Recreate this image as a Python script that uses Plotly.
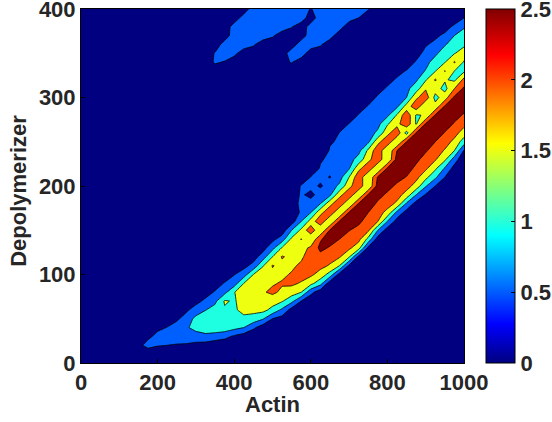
import plotly.graph_objects as go

x_grid = list(range(0, 1001, 25))
y_grid = list(range(0, 401, 10))
background = 0.1

# z, column by column: column_x, lowest y of the list, z values upward
ridge_x = [150, 175, 200, 225, 250, 275, 300, 325, 350, 375, 400, 425, 450, 475, 500, 525, 550, 575, 600,
           625, 650, 675, 700, 725, 750, 775, 800, 825, 850, 875, 900, 925, 950, 975, 1000]
ridge_start = [20, 10, 10, 10, 20, 20, 20, 20, 20, 20, 30, 30, 30, 40, 40, 50, 60, 70, 70,
               80, 90, 100, 100, 110, 120, 140, 150, 160, 170, 180, 190, 200, 200, 220, 230]
ridge_values = [
    [.3],
    [0, .75, .35],
    [0, .55, .7, .35],
    [0, .5, .75, .52, .2],
    [.45, .8, .7, .42],
    [.42, .85, .92, .7, .42],
    [.38, .73, 1.2, 1.15, .7, .35],
    [.3, .85, 1.3, 1.35, .98, .6, .3],
    [.2, .75, 1.35, 1.4, 1.2, .88, .55, .25],
    [.15, .65, 1.3, 1.42, 1.45, 1.55, .85, .54, .2],
    [.42, 1.15, 1.42, 1.45, 1.45, 1.48, .75, .48, .15],
    [.25, 1.0, 1.42, 1.6, 1.7, 1.75, 1.5, .75, .35],
    [.1, .6, 1.3, 1.65, 1.75, 1.85, 1.75, 1.5, .65, .28],
    [.2, 1.05, 1.65, 1.8, 1.95, 1.9, 1.85, 1.45, .75, .3],
    [.1, .5, 1.35, 1.72, 2.1, 1.95, 1.9, 2.03, 1.5, .85, .35],
    [.3, .9, 1.55, 1.9, 2.05, 1.9, 1.85, 2.05, 1.55, .75, .2],
    [.3, 1.15, 1.75, 2.1, 2.05, 1.9, 1.85, 1.95, 1.6, 1.0, .25],
    [.5, 1.5, 1.95, 2.2, 2.1, 1.9, 1.8, 2.02, 1.6, 1.0, .6, .7, .6, .55, .1],
    [.15, .65, 1.65, 2.1, 2.25, 2.3, 2.1, 1.52, 2.35, 1.7, 1.0, .8, .3, .7, .52, .1],
    [.2, 1.2, 1.8, 2.15, 2.35, 2.62, 2.45, 1.52, 2.35, 1.85, 1.0, .8, .42, .65, .55, .45, .1],
    [.2, 1.3, 1.95, 2.2, 2.45, 2.7, 2.55, 1.52, 2.35, 1.85, .9, .75, .47, .65, .6, .55, .45, .1],
    [.3, 1.5, 2.05, 2.3, 2.5, 2.65, 2.55, 1.52, 2.35, 1.85, 1.1, .8, .72, .68, .62, .57, .52, .25, .1],
    [.1, .4, 1.55, 2.1, 2.3, 2.52, 2.7, 2.55, 1.52, 2.35, 1.85, 1.5, .95, .8, .72, .65, .58, .52, .25, .1],
    [.1, .35, 1.7, 2.15, 2.35, 2.6, 2.7, 2.55, 1.52, 2.35, 2.35, 1.85, 1.2, .85, .75, .68, .6, .53, .3, .1],
    [.1, .35, 1.35, 2.1, 2.3, 2.5, 2.75, 2.55, 1.52, 1.52, 2.35, 1.85, 1.6, .9, .78, .7, .62, .53, .3, .1],
    [.25, 1.0, 2.0, 2.2, 2.42, 2.65, 2.7, 2.55, 1.52, 2.35, 2.35, 1.85, 1.1, .85, .75, .65, .56, .35, .1],
    [.25, 1.0, 1.85, 2.2, 2.42, 2.65, 2.8, 2.55, 1.52, 1.52, 2.35, 1.85, 1.45, .9, .78, .68, .56, .35, .1],
    [.3, .85, 1.9, 2.2, 2.42, 2.65, 2.8, 2.7, 2.5, 1.5, 2.35, 1.85, 1.55, .9, .8, .68, .56, .35, .1],
    [.3, .92, 1.8, 2.2, 2.48, 2.7, 2.85, 2.75, 2.5, 1.3, 2.35, 2.35, 1.7, 1.0, .88, .72, .53, .2, .1],
    [.3, 1.0, 1.8, 2.15, 2.4, 2.6, 2.8, 2.75, 2.52, 1.45, 1.45, 2.35, 1.9, 1.25, .92, .75, .55, .3, .1],
    [.45, 1.05, 1.65, 2.1, 2.33, 2.55, 2.75, 2.8, 2.55, 1.55, 1.5, 2.3, 1.95, 1.45, 1.03, .85, .65, .45, .1],
    [.5, 1.1, 1.6, 2.05, 2.28, 2.5, 2.7, 2.75, 2.55, 1.65, 1.35, 1.7, 2.05, 1.47, 1.2, .9, .62, .4, .1],
    [.2, .5, .95, 1.6, 1.95, 2.25, 2.48, 2.65, 2.7, 2.55, 1.75, 1.35, 1.55, 2.03, 1.47, 1.25, .95, .6, .3, .1],
    [.3, .75, 1.5, 1.85, 2.2, 2.47, 2.6, 2.7, 2.6, 2.0, 1.4, 1.5, 2.05, 1.47, 1.25, 1.0, .6, .2, .1],
    [.1, .45, 1.25, 1.75, 2.15, 2.47, 2.6, 2.7, 2.6, 2.15, 1.4, 1.45, 1.75, 1.4, 1.2, .95, .5, .2],
]

# the two blue lobes at the top edge
lobe_x = [350, 375, 400, 425, 450, 475, 500, 525, 550, 575, 600, 625, 650, 675, 700, 725, 750]
lobe_start = [340, 340, 350, 360, 360, 370, 370, 340, 340, 350, 360, 360, 370, 380, 390, 390, 400]
lobe_values = [
    [.6, .55],
    [.45, .9, .8],
    [.7, .9, .9, .8],
    [.9, .9, .9, .8],
    [.6, .9, .9, .9, .9],
    [.9, .9, .9, .9],
    [.6, .9, .9, .9],
    [.3, .1, .1, .1, .9, .9, .9],
    [.55, .9, .1, .1, .55, .9, .9],
    [.9, .9, .1, .1, .9, .9],
    [.9, .9, .8, .1, .45],
    [.6, .9, .9, .9, .9],
    [.8, .9, .9, .9],
    [.8, .9, .9],
    [.8, .9],
    [.5, .8],
    [.55],
]

level_start = 0.5
level_end = 2.5
level_size = 0.5
band_colors = ["#000080", "#0060ff", "#1effe1", "#efff10", "#ff5000", "#800000"]
jet_stops = [(0, "#000080"), (0.11, "#0000ff"), (0.36, "#00ffff"), (0.62, "#ffff00"),
             (0.87, "#ff0000"), (1, "#800000")]
cbar_ticks = [0, 0.5, 1, 1.5, 2, 2.5]
x_ticks = [0, 200, 400, 600, 800, 1000]
y_ticks = [0, 100, 200, 300, 400]
x_label = "Actin"
y_label = "Depolymerizer"

z = [[background for _ in x_grid] for _ in y_grid]
for xs, starts, vals in ((ridge_x, ridge_start, ridge_values), (lobe_x, lobe_start, lobe_values)):
    for cx, start, col in zip(xs, starts, vals):
        i = x_grid.index(cx)
        j0 = y_grid.index(start)
        for k, v in enumerate(col):
            z[j0 + k][i] = v

n = len(band_colors)
stepped = []
for i, c in enumerate(band_colors):
    stepped += [[i / n, c], [(i + 1) / n, c]]

ink = "#262626"
font_tick = dict(family="Liberation Sans", size=22, color=ink, weight=700)

fig = go.Figure()
fig.add_trace(go.Contour(
    x=x_grid, y=y_grid, z=z, zmin=0, zmax=3, autocontour=False,
    contours=dict(start=level_start, end=level_end, size=level_size, coloring="fill"),
    colorscale=stepped, showscale=False,
    line=dict(color="black", width=0.8, smoothing=0),
    hoverinfo="skip",
))
fig.add_trace(go.Scatter(
    x=[500, 500], y=[200, 200], mode="markers", hoverinfo="skip", showlegend=False,
    marker=dict(
        color=[cbar_ticks[0], cbar_ticks[-1]], cmin=cbar_ticks[0], cmax=cbar_ticks[-1],
        colorscale=[[a, b] for a, b in jet_stops], opacity=0, size=1, showscale=True,
        colorbar=dict(
            x=1.0574, xanchor="left", xpad=0, y=0.5, yanchor="middle", ypad=0, len=1,
            thickness=29, thicknessmode="pixels", outlinewidth=1, outlinecolor="black",
            tickvals=cbar_ticks, ticktext=[str(t) for t in cbar_ticks],
            ticks="inside", ticklen=4, tickcolor="black", tickfont=font_tick,
            ticklabeloverflow="allow",
        ),
    ),
))
axis_common = dict(
    showgrid=False, zeroline=False, showline=True, mirror=True, linecolor="black", linewidth=1,
    ticks="inside", ticklen=4, tickcolor="black", tickfont=font_tick, ticklabeloverflow="allow",
    automargin=False,
)
fig.update_xaxes(range=[0, 1000], tickvals=x_ticks, **axis_common)
fig.update_yaxes(range=[0, 400], tickvals=y_ticks, **axis_common)
fig.add_annotation(text=x_label, xref="paper", yref="paper", x=0.5, y=-0.118, yanchor="middle",
                   showarrow=False, font=font_tick)
fig.add_annotation(text=y_label, xref="paper", yref="paper", x=-0.164, y=0.487, textangle=-90,
                   xanchor="center", yanchor="middle", showarrow=False, font=font_tick)
fig.update_layout(
    width=552, height=422, margin=dict(l=81, r=88, t=9, b=59, autoexpand=False),
    paper_bgcolor="white", plot_bgcolor="#000080", showlegend=False,
)
fig.write_html("out.html", config=dict(displayModeBar=False),
               post_script="document.body.style.margin='0';document.body.style.overflow='hidden';")
